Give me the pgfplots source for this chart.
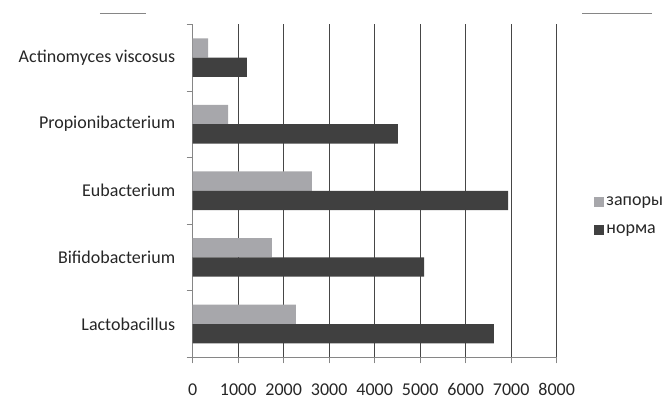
\documentclass[border=0pt]{standalone}
\usepackage{fontspec}
\setmainfont{Carlito}
\usepackage{pgfplots}
\pgfplotsset{compat=1.18}

\definecolor{zapory}{RGB}{167,167,171}
\definecolor{norma}{RGB}{64,64,64}
\definecolor{axisgray}{RGB}{134,134,134}
\definecolor{gridc}{RGB}{70,70,70}

\begin{document}
\begin{tikzpicture}
\useasboundingbox (-192.7bp,-38.7bp) rectangle (473.3bp,357.3bp);
% thin rules above the plot area
\draw[axisgray, line width=0.8bp] (-92.7bp,344.3bp) -- (-46.7bp,344.3bp);
\draw[axisgray, line width=0.8bp] (389.3bp,344.3bp) -- (459bp,344.3bp);
\begin{axis}[
  at={(0,0)}, anchor=south west,
  scale only axis,
  width=364bp, height=333bp,
  xmin=0, xmax=8000,
  ymin=-0.5, ymax=4.5,
  xtick={0,1000,...,8000},
  ytick={-0.5,0.5,...,4.5},
  yticklabels={},
  extra y ticks={0,1,2,3,4},
  extra y tick labels={Lactobacillus,Bifidobacterium,Eubacterium,Propionibacterium,Actinomyces viscosus},
  extra y tick style={tick style={draw=none}},
  major tick length=6bp,
  tick align=outside,
  tick style={axisgray, line width=0.8bp},
  xmajorgrids,
  grid style={gridc, line width=0.8bp},
  axis x line*=bottom,
  axis y line*=left,
  axis line style={axisgray, line width=0.8bp, -},
  scaled x ticks=false,
  /pgf/number format/assume math mode=true,
  /pgf/number format/1000 sep={},
  ticklabel style={font=\fontsize{18bp}{20bp}\selectfont, text=black!85},
  yticklabel style={xshift=-8bp},
  xticklabel style={inner sep=0pt, yshift=-20bp},
  xbar,
  bar width=0.29,
  legend style={at={(1.095,0.425)}, anchor=west, draw=none, fill=none,
    font=\fontsize{18bp}{20bp}\selectfont, text=black!85,
    row sep=14bp, /tikz/every even column/.append style={column sep=4bp}},
  legend cell align=left,
  legend image code/.code={\fill[#1] (0bp,-5bp) rectangle (10bp,5bp);},
]
\addplot[fill=zapory, draw=none, bar shift=0.145] coordinates {
  (2270,0) (1740,1) (2620,2) (780,3) (340,4)
};
\addlegendentry{запоры}
\addplot[fill=norma, draw=none, bar shift=-0.145] coordinates {
  (6620,0) (5085,1) (6930,2) (4510,3) (1190,4)
};
\addlegendentry{норма}
\end{axis}
\end{tikzpicture}
\end{document}
